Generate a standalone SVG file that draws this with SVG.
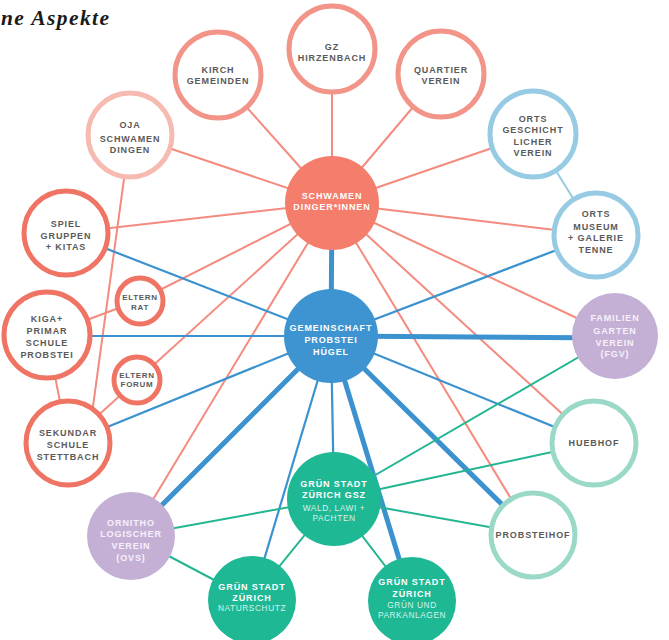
<svg xmlns="http://www.w3.org/2000/svg" width="669" height="640" viewBox="0 0 669 640">
<style>
.t{font-family:"Liberation Sans",Arial,sans-serif;font-weight:bold;font-size:9px;letter-spacing:0.9px;text-anchor:middle;fill:#5a5a5a}
.s{font-size:8px;letter-spacing:0.7px}
.w{fill:#ffffff}
.l{font-weight:normal;fill:#d6f3ea;font-size:8.3px;letter-spacing:0.6px}
.o{fill:#ffffff;stroke-width:5}
.sa{stroke:#f29488}
.co{stroke:#ef7463}
.pk{stroke:#f6bab1}
.lb{stroke:#97cbe3}
.mt{stroke:#9ad9c8}
.cs{stroke:#f48b7f;stroke-width:2;fill:none}
.cb{stroke:#3b92cf;stroke-width:2.2;fill:none}
.cbt{stroke:#3b92cf;stroke-width:5;fill:none}
.cg{stroke:#22b592;stroke-width:2;fill:none}
</style>
<rect width="669" height="640" fill="#ffffff"/>
<text x="1" y="25" font-family="'Liberation Serif','Times New Roman',serif" font-style="italic" font-weight="bold" font-size="21.5" letter-spacing="1.4" fill="#1a1a1a">ne Aspekte</text>
<g id="connectors">
<line class="cs" x1="332" y1="203" x2="218" y2="75"/>
<line class="cs" x1="332" y1="203" x2="332" y2="49"/>
<line class="cs" x1="332" y1="203" x2="441" y2="74"/>
<line class="cs" x1="332" y1="203" x2="533" y2="134"/>
<line class="cs" x1="332" y1="203" x2="130" y2="135"/>
<line class="cs" x1="332" y1="203" x2="66" y2="233"/>
<line class="cs" x1="332" y1="203" x2="140" y2="300"/>
<line class="cs" x1="332" y1="203" x2="137" y2="380"/>
<line class="cs" x1="332" y1="203" x2="596" y2="235"/>
<line class="cs" x1="332" y1="203" x2="615" y2="336"/>
<line class="cs" x1="332" y1="203" x2="594" y2="443"/>
<line class="cs" x1="332" y1="203" x2="533" y2="535"/>
<line class="cs" x1="332" y1="203" x2="131" y2="536"/>
<line class="cs" x1="130" y1="135" x2="88" y2="443"/>
<line class="cs" x1="47" y1="335" x2="140" y2="300"/>
<line class="cs" x1="68" y1="443" x2="137" y2="380"/>
<line class="cs" x1="47" y1="335" x2="68" y2="443"/>
<line stroke="#97cbe3" stroke-width="2" x1="533" y1="134" x2="596" y2="235"/>
<line class="cb" x1="331" y1="336" x2="66" y2="233"/>
<line class="cb" x1="331" y1="336" x2="47" y2="336"/>
<line class="cb" x1="331" y1="336" x2="68" y2="443"/>
<line class="cb" x1="331" y1="336" x2="596" y2="235"/>
<line class="cb" x1="331" y1="336" x2="594" y2="443"/>
<line class="cb" x1="331" y1="336" x2="252" y2="600"/>
<line class="cb" stroke-width="3.5" x1="331" y1="336" x2="334" y2="499"/>
<line class="cbt" x1="331" y1="336" x2="332" y2="203"/>
<line class="cbt" x1="331" y1="336" x2="615" y2="338"/>
<line class="cbt" x1="331" y1="336" x2="533" y2="535"/>
<line class="cbt" x1="331" y1="336" x2="412" y2="601"/>
<line class="cbt" x1="331" y1="336" x2="131" y2="536"/>
<line class="cg" x1="334" y1="499" x2="615" y2="336"/>
<line class="cg" x1="334" y1="499" x2="594" y2="443"/>
<line class="cg" x1="334" y1="499" x2="533" y2="535"/>
<line class="cg" x1="334" y1="499" x2="131" y2="536"/>
<line class="cg" x1="334" y1="499" x2="252" y2="600"/>
<line class="cg" x1="334" y1="499" x2="412" y2="601"/>
<line class="cg" x1="131" y1="536" x2="252" y2="600"/>
</g>
<g id="kirch"><circle class="o sa" cx="218" cy="75" r="43"/><text class="t"><tspan x="218" y="73">KIRCH</tspan><tspan x="218" y="84">GEMEINDEN</tspan></text></g>
<g id="gz"><circle class="o sa" cx="332" cy="49" r="43"/><text class="t"><tspan x="332" y="50">GZ</tspan><tspan x="332" y="61">HIRZENBACH</tspan></text></g>
<g id="quartier"><circle class="o sa" cx="441" cy="74" r="43"/><text class="t"><tspan x="441" y="73">QUARTIER</tspan><tspan x="441" y="84">VEREIN</tspan></text></g>
<g id="oja"><circle class="o pk" cx="130" cy="135" r="42"/><text class="t"><tspan x="130" y="128">OJA</tspan><tspan x="130" y="142">SCHWAMEN</tspan><tspan x="130" y="153">DINGEN</tspan></text></g>
<g id="ortsgeschicht"><circle class="o lb" cx="533" cy="134" r="43"/><text class="t"><tspan x="533" y="122">ORTS</tspan><tspan x="533" y="133">GESCHICHT</tspan><tspan x="533" y="145">LICHER</tspan><tspan x="533" y="156">VEREIN</tspan></text></g>
<g id="schwamendinger"><circle cx="332" cy="203" r="47" fill="#f47d6c"/><text class="t w"><tspan x="332" y="199">SCHWAMEN</tspan><tspan x="332" y="210">DINGER*INNEN</tspan></text></g>
<g id="ortsmuseum"><circle class="o lb" cx="596" cy="235" r="42"/><text class="t"><tspan x="596" y="217">ORTS</tspan><tspan x="596" y="230">MUSEUM</tspan><tspan x="596" y="241">+ GALERIE</tspan><tspan x="596" y="253">TENNE</tspan></text></g>
<g id="spiel"><circle class="o co" cx="66" cy="233" r="42"/><text class="t"><tspan x="66" y="227">SPIEL</tspan><tspan x="66" y="239">GRUPPEN</tspan><tspan x="66" y="250">+ KITAS</tspan></text></g>
<g id="elternrat"><circle class="o co" stroke-width="4" cx="140" cy="301" r="23"/><text class="t s"><tspan x="140" y="300">ELTERN</tspan><tspan x="140" y="310">RAT</tspan></text></g>
<g id="kiga"><circle class="o co" cx="47" cy="335" r="43"/><text class="t"><tspan x="47" y="322">KIGA+</tspan><tspan x="47" y="334">PRIMAR</tspan><tspan x="47" y="346">SCHULE</tspan><tspan x="47" y="358">PROBSTEI</tspan></text></g>
<g id="elternforum"><circle class="o co" stroke-width="4" cx="137" cy="380" r="23"/><text class="t s"><tspan x="137" y="378">ELTERN</tspan><tspan x="137" y="387">FORUM</tspan></text></g>
<g id="sekundar"><circle class="o co" cx="68" cy="443" r="42"/><text class="t"><tspan x="68" y="436">SEKUNDAR</tspan><tspan x="68" y="448">SCHULE</tspan><tspan x="68" y="460">STETTBACH</tspan></text></g>
<g id="gemeinschaft"><circle cx="331" cy="336" r="47" fill="#3d94d1"/><text class="t w"><tspan x="331" y="331">GEMEINSCHAFT</tspan><tspan x="331" y="343">PROBSTEI</tspan><tspan x="331" y="355">HÜGEL</tspan></text></g>
<g id="fgv"><circle cx="615" cy="336" r="43" fill="#c5b0d5"/><text class="t" style="fill:#f6f0fa"><tspan x="615" y="321">FAMILIEN</tspan><tspan x="615" y="334">GARTEN</tspan><tspan x="615" y="346">VEREIN</tspan><tspan x="615" y="357">(FGV)</tspan></text></g>
<g id="huebhof"><circle class="o mt" cx="594" cy="443" r="42"/><text class="t"><tspan x="594" y="446">HUEBHOF</tspan></text></g>
<g id="probsteihof"><circle class="o mt" cx="533" cy="535" r="42"/><text class="t"><tspan x="533" y="538">PROBSTEIHOF</tspan></text></g>
<g id="gsz"><circle cx="334" cy="499" r="47" fill="#1fb895"/><text class="t w"><tspan x="334" y="487">GRÜN STADT</tspan><tspan x="334" y="498">ZÜRICH GSZ</tspan></text><text class="t l"><tspan x="334" y="511">WALD, LAWI +</tspan><tspan x="334" y="521">PACHTEN</tspan></text></g>
<g id="ornitho"><circle cx="131" cy="536" r="44" fill="#c5b0d5"/><text class="t" style="fill:#f6f0fa"><tspan x="131" y="526">ORNITHO</tspan><tspan x="131" y="537">LOGISCHER</tspan><tspan x="131" y="549">VEREIN</tspan><tspan x="131" y="561">(OVS)</tspan></text></g>
<g id="naturschutz"><circle cx="252" cy="600" r="44" fill="#1fb895"/><text class="t w"><tspan x="252" y="590">GRÜN STADT</tspan><tspan x="252" y="601">ZÜRICH</tspan></text><text class="t l"><tspan x="252" y="611">NATURSCHUTZ</tspan></text></g>
<g id="parkanlagen"><circle cx="412" cy="601" r="44" fill="#1fb895"/><text class="t w"><tspan x="412" y="585">GRÜN STADT</tspan><tspan x="412" y="597">ZÜRICH</tspan></text><text class="t l"><tspan x="412" y="608">GRÜN UND</tspan><tspan x="412" y="618">PARKANLAGEN</tspan></text></g>
</svg>
